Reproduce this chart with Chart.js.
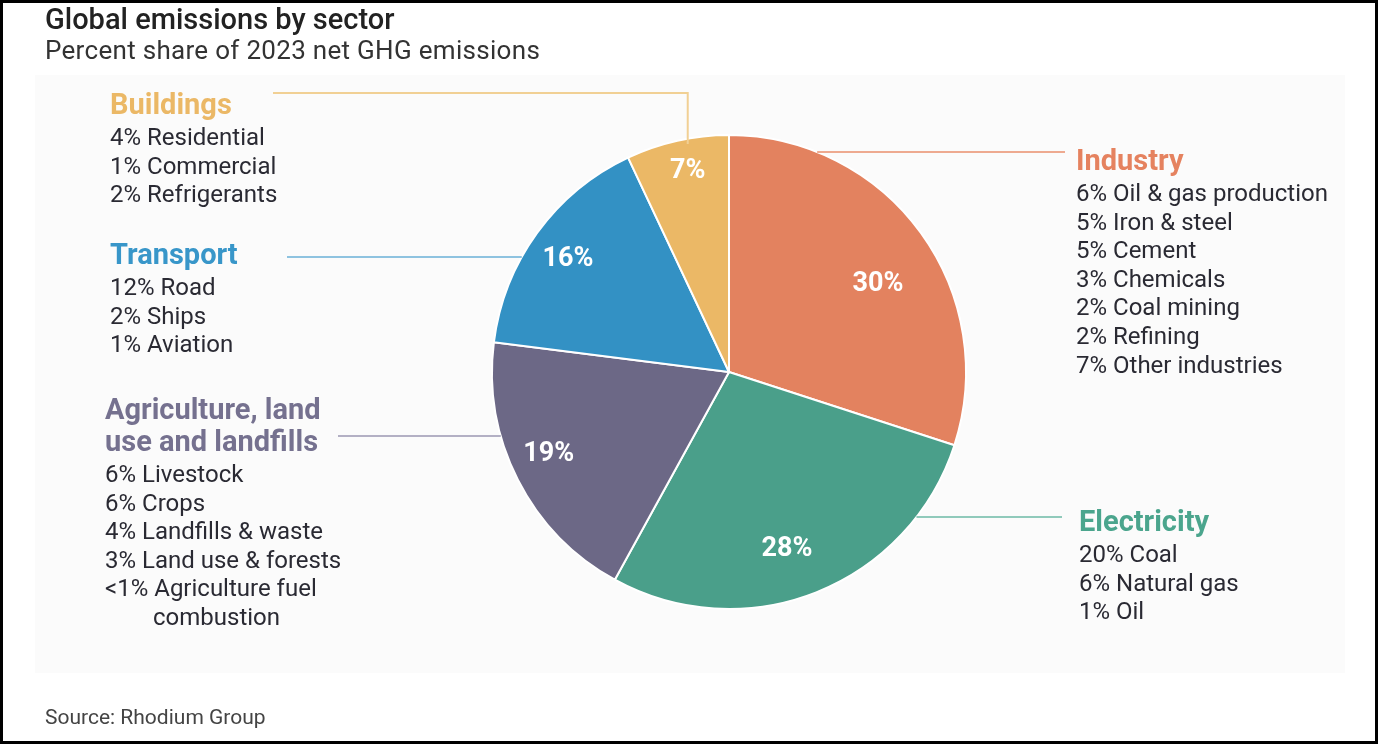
<!DOCTYPE html>
<html>
<head>
<meta charset="utf-8">
<script src="https://cdn.jsdelivr.net/npm/chart.js@4.4.0/dist/chart.umd.min.js"></script>
<style>
  html, body { margin: 0; padding: 0; background: #fff; }
  #page { position: relative; width: 1378px; height: 744px; overflow: hidden; font-family: Roboto, 'Noto Sans', sans-serif; color: #2a2a33; }
  #panel { position: absolute; left: 35px; top: 75px; width: 1310px; height: 598px; background: #fbfbfb; }
  #chart { position: absolute; left: 0; top: 0; }
  #frame { position: absolute; left: 0; top: 0; width: 1378px; height: 744px; box-sizing: border-box; border: 3px solid #000; pointer-events: none; }
  .title { position: absolute; left: 45px; top: 2px; font-size: 29px; line-height: 34px; font-weight: 500; color: #222; }
  .subtitle { position: absolute; left: 45px; top: 33px; font-size: 26px; line-height: 34px; letter-spacing: 0.3px; color: #333; }
  .source { position: absolute; left: 45px; top: 703px; font-size: 21px; line-height: 28px; color: #444; }
  .block { position: absolute; }
  .block h3 { margin: 0 0 3px 0; font-size: 29px; line-height: 32px; font-weight: 700; }
  .block div { font-size: 24px; line-height: 28.6px; padding-left: 48px; text-indent: -48px; }
</style>
</head>
<body>
<div id="page">
  <div id="panel"></div>
  <canvas id="chart" width="1378" height="744"></canvas>
  <div class="title">Global emissions by sector</div>
  <div class="subtitle">Percent share of 2023 net GHG emissions</div>
  <div class="source">Source: Rhodium Group</div>
  <div id="frame"></div>
</div>
<script>
// sectors, clockwise from 12 o'clock
const sectors = ['Industry', 'Electricity', 'Agriculture, land use and landfills', 'Transport', 'Buildings'];
const shares = [30, 28, 19, 16, 7];

// breakdown lines under each sector name
const industryParts = ['6% Oil & gas production', '5% Iron & steel', '5% Cement', '3% Chemicals', '2% Coal mining', '2% Refining', '7% Other industries'];
const electricityParts = ['20% Coal', '6% Natural gas', '1% Oil'];
const agricultureParts = ['6% Livestock', '6% Crops', '4% Landfills & waste', '3% Land use & forests', '<1% Agriculture fuel combustion'];
const transportParts = ['12% Road', '2% Ships', '1% Aviation'];
const buildingsParts = ['4% Residential', '1% Commercial', '2% Refrigerants'];
const breakdowns = [industryParts, electricityParts, agricultureParts, transportParts, buildingsParts];

const sliceColors = ['#e3825f', '#4a9f8a', '#6c6886', '#3391c4', '#ebb866'];
const headColors = ['#e5825f', '#4ba58d', '#75718f', '#3896c9', '#ebb866'];
const lineColors = ['#eeaa90', '#90cabb', '#b3b0c4', '#8ec3e0', '#f1d094'];

// text block placement and connector anchors
const blocks = [
  { left: 1076, top: 144, width: 300, lineX: 1065, lineY: 152, side: 'right' },
  { left: 1079, top: 505, width: 300, lineX: 1062, lineY: 517, side: 'right' },
  { left: 105, top: 393, width: 250, lineX: 338, lineY: 436, side: 'left' },
  { left: 110, top: 238, width: 300, lineX: 287, lineY: 257, side: 'left' },
  { left: 110, top: 88, width: 300, lineX: 273, lineY: 93, side: 'elbow' }
];
// percent label spot inside each slice: share of radius, nudge in degrees
const labelRadius = [0.73, 0.786, 0.836, 0.83, 0.866];
const labelNudge = [5.5, 3.5, 2.5, -1, 1];

// build html text blocks
const page = document.getElementById('page');
sectors.forEach((name, i) => {
  const b = blocks[i];
  const el = document.createElement('div');
  el.className = 'block';
  el.style.left = b.left + 'px';
  el.style.top = b.top + 'px';
  el.style.width = b.width + 'px';
  const h = document.createElement('h3');
  h.textContent = name;
  h.style.color = headColors[i];
  el.appendChild(h);
  breakdowns[i].forEach(t => {
    const d = document.createElement('div');
    d.textContent = t;
    el.appendChild(d);
  });
  page.insertBefore(el, document.getElementById('frame'));
});

// connector lines + percent labels
const calloutPlugin = {
  id: 'callouts',
  afterDatasetsDraw(chart) {
    const ctx = chart.ctx;
    const arcs = chart.getDatasetMeta(0).data;
    ctx.save();
    ctx.lineWidth = 2;
    arcs.forEach((arc, i) => {
      const { x, y, startAngle, endAngle, outerRadius } = arc.getProps(['x', 'y', 'startAngle', 'endAngle', 'outerRadius'], true);
      const mid = (startAngle + endAngle) / 2 + labelNudge[i] * Math.PI / 180;
      const lr = outerRadius * labelRadius[i];
      const lx = x + Math.cos(mid) * lr;
      const ly = y + Math.sin(mid) * lr;
      const b = blocks[i];
      ctx.strokeStyle = lineColors[i];
      ctx.beginPath();
      if (b.side === 'elbow') {
        ctx.moveTo(b.lineX, b.lineY);
        ctx.lineTo(lx, b.lineY);
        ctx.lineTo(lx, ly - 27);
      } else {
        const dy = b.lineY - y;
        const dx = Math.sqrt(Math.max(outerRadius * outerRadius - dy * dy, 0));
        const edgeX = b.side === 'right' ? x + dx : x - dx;
        ctx.moveTo(b.lineX, b.lineY);
        ctx.lineTo(edgeX, b.lineY);
      }
      ctx.stroke();

      ctx.fillStyle = '#ffffff';
      ctx.font = 'bold 27px Roboto, sans-serif';
      ctx.textAlign = 'center';
      ctx.textBaseline = 'middle';
      ctx.fillText(shares[i] + '%', lx, ly);
    });
    ctx.restore();
  }
};

new Chart(document.getElementById('chart').getContext('2d'), {
  type: 'pie',
  data: {
    labels: sectors,
    datasets: [{
      data: shares,
      backgroundColor: sliceColors,
      borderColor: '#ffffff',
      borderWidth: 2
    }]
  },
  options: {
    responsive: false,
    animation: false,
    devicePixelRatio: 1,
    layout: { padding: { left: 491, right: 411, top: 134, bottom: 134 } },
    plugins: {
      legend: { display: false },
      tooltip: { enabled: false }
    }
  },
  plugins: [calloutPlugin]
});
</script>
</body>
</html>
